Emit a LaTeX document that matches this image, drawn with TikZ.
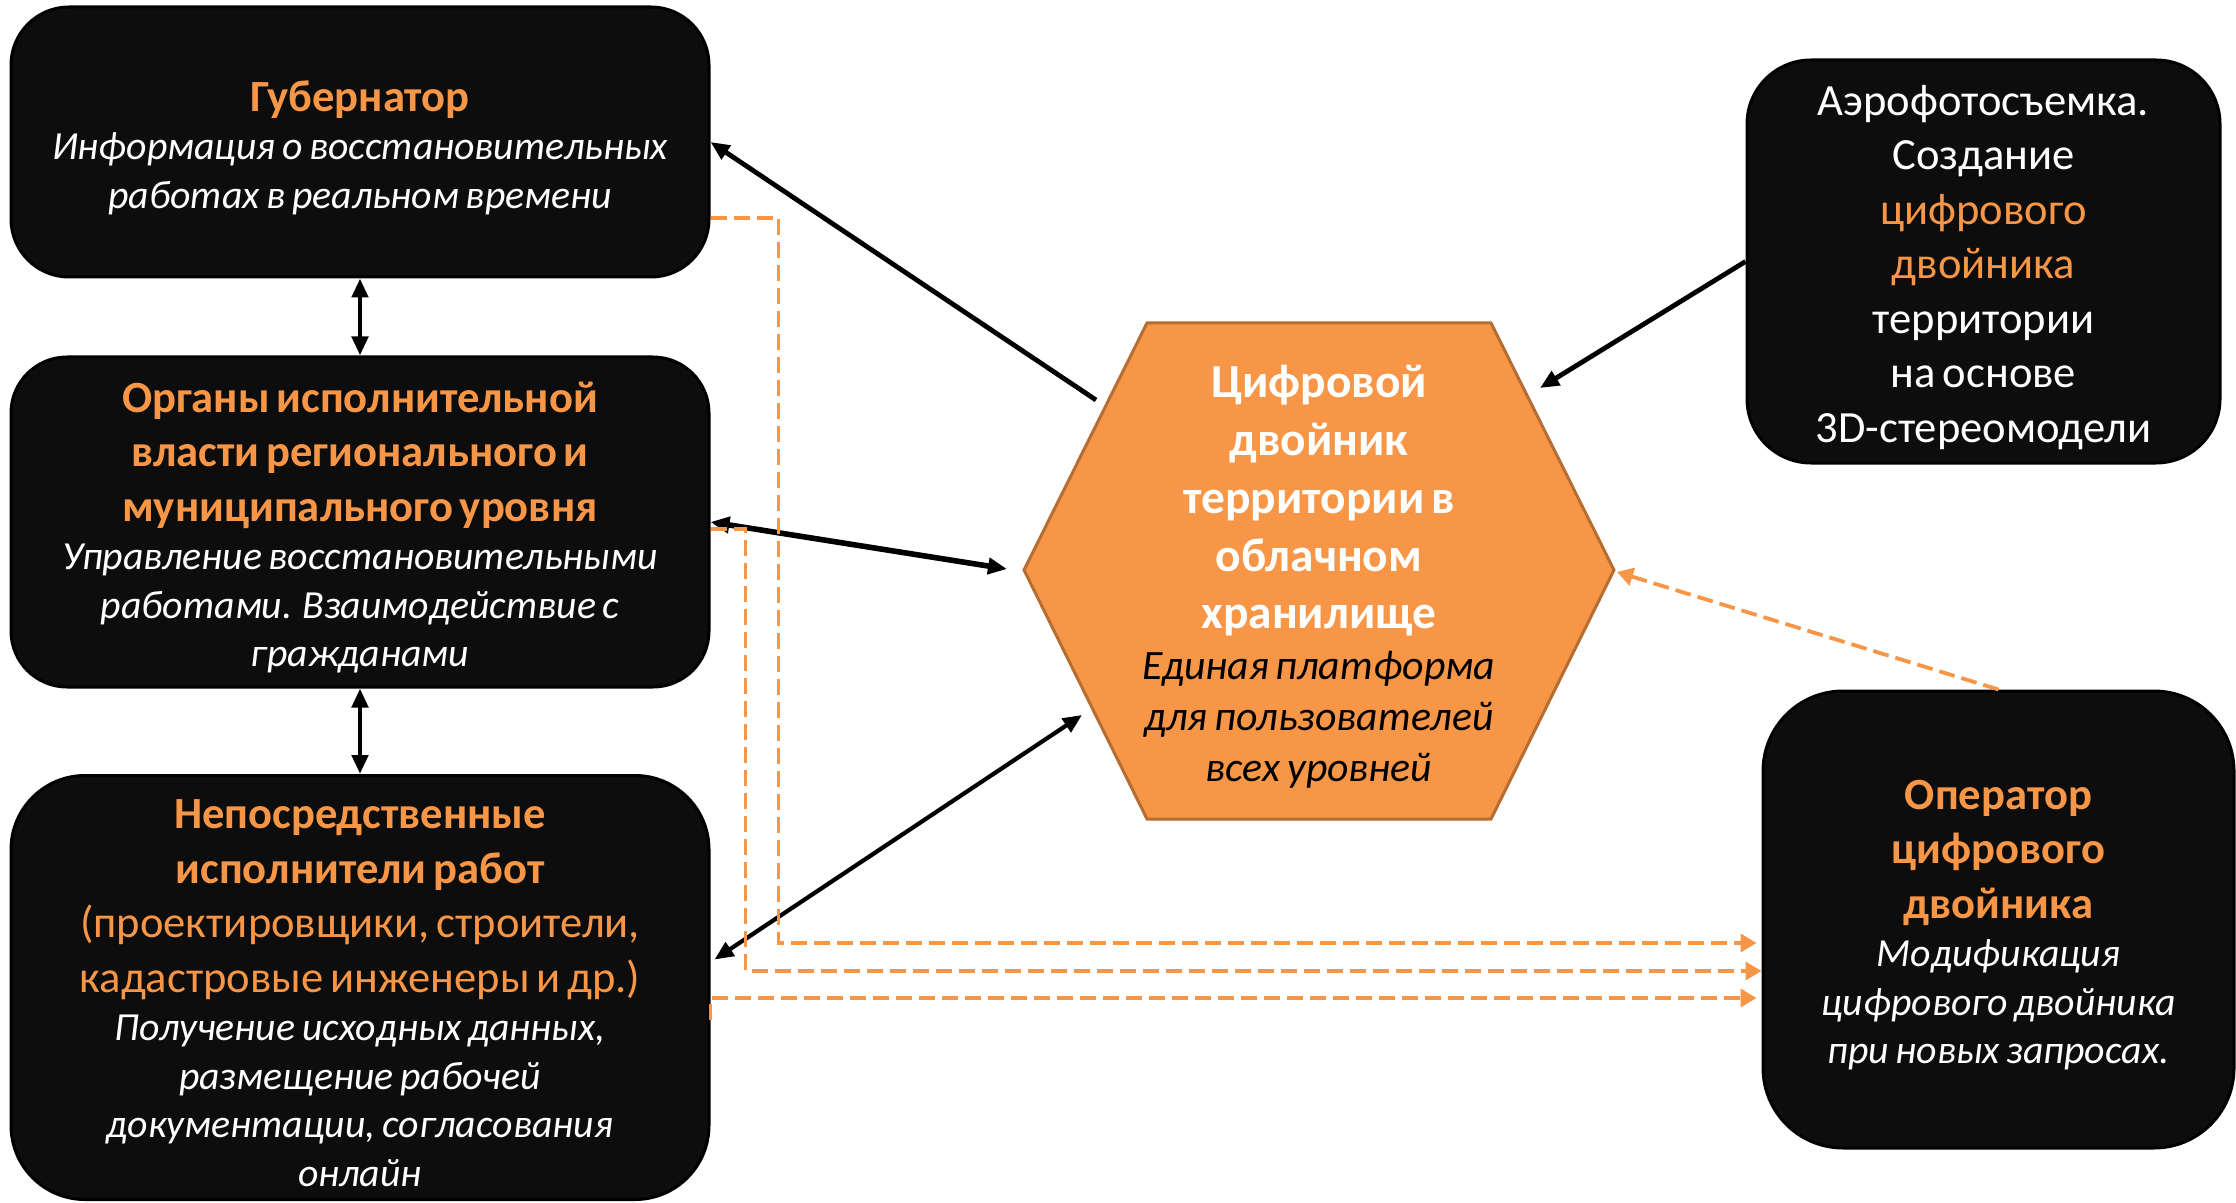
\documentclass[tikz,border=0pt]{standalone}
\usepackage{fontspec}
\setmainfont{Carlito}
\usetikzlibrary{arrows.meta,calc}
\definecolor{orng}{HTML}{F79646}
\definecolor{hexline}{HTML}{B66D31}
\definecolor{boxfill}{HTML}{0D0D0D}
\newcommand\hdf{\fontsize{22.3pt}{27.25pt}\selectfont\bfseries\color{orng}}
\newcommand\hdr{\fontsize{22.3pt}{27.25pt}\selectfont\color{orng}}
\newcommand\bdf{\fontsize{19.9pt}{24.25pt}\selectfont\itshape\color{white}}
\newcommand\hxh{\fontsize{23.7pt}{28.9pt}\selectfont\bfseries\color{white}}
\newcommand\hxb{\fontsize{20.9pt}{25.5pt}\selectfont\itshape\color{black}}
\newcommand\aef{\fontsize{22.3pt}{27.25pt}\selectfont\color{white}}
\begin{document}
\begin{tikzpicture}[x=0.5pt,y=-0.5pt,
  darkbox/.style={draw=black, line width=1.5pt, fill=boxfill, inner sep=0pt},
  txt/.style={inner sep=0pt, align=center},
  blk/.style={draw=black, line width=2.4pt, -{Triangle[length=9.5pt,width=8pt]}},
  blkd/.style={draw=black, line width=2.4pt, {Triangle[length=9.5pt,width=8pt]}-{Triangle[length=9.5pt,width=8pt]}},
  dsh/.style={draw=orng, line width=1.9pt, dash pattern=on 8pt off 3.5pt, -{Triangle[length=8pt,width=9pt]}},
]
\useasboundingbox (0,0) rectangle (2236,1203);

% hexagon
\coordinate (v1) at (1024,570);
\coordinate (v2) at (1147,323);
\coordinate (v3) at (1491,323);
\coordinate (v4) at (1614,570);
\coordinate (v5) at (1491,819);
\coordinate (v6) at (1147,819);
\draw[fill=orng, draw=hexline, line width=1.5pt] (v1) -- (v2) -- (v3) -- (v4) -- (v5) -- (v6) -- cycle;
\node[txt, text width=240pt] (hex) at (1319,577)
  {{\hxh Цифровой\\двойник\\территории в\\облачном\\хранилище\par}{\hxb Единая платформа\\для пользователей\\всех уровней\par}};

% left boxes
\node[darkbox, rounded corners=29pt, minimum width=349pt, minimum height=135pt] (gov) at (360,142) {};
\node[txt, text width=345pt] (govt) at ($(gov.center)+(0,5.7)$)
  {{\hdf Губернатор\par}{\bdf Информация о восстановительных\\работах в реальном времени\par}};
\node[darkbox, rounded corners=28pt, minimum width=349pt, minimum height=165pt] (org) at (360,522) {};
\node[txt, text width=345pt] (orgt) at ($(org.center)+(0,5.7)$)
  {{\hdf Органы исполнительной\\власти регионального и\\муниципального уровня\par}{\bdf Управление восстановительными\\работами. Взаимодействие с\\гражданами\par}};
\node[darkbox, rounded corners=37pt, minimum width=349pt, minimum height=212pt] (exe) at (360,987.5) {};
\node[txt, text width=345pt] (exet) at ($(exe.center)+(0,5.7)$)
  {{\hdf Непосредственные\\исполнители работ\par}{\hdr (проектировщики, строители,\\кадастровые инженеры и др.)\par}{\bdf Получение исходных данных,\\размещение рабочей\\документации, согласования\\онлайн\par}};

% right boxes
\node[darkbox, rounded corners=32pt, minimum width=236.5pt, minimum height=201.5pt] (aer) at (1983.5,261.5) {};
\node[txt, text width=230pt] (aert) at ($(aer.center)+(0,5.7)$)
  {{\aef Аэрофотосъемка.\\Создание\\{\color{orng}цифрового}\\{\color{orng}двойника}\\территории\\на основе\\3D-стереомодели\par}};
\node[darkbox, rounded corners=40pt, minimum width=235.5pt, minimum height=228.5pt] (opr) at (1998.5,919.5) {};
\node[txt, text width=230pt] (oprt) at ($(opr.center)+(0,5.7)$)
  {{\hdf Оператор\\цифрового\\двойника\par}{\bdf Модификация\\цифрового двойника\\при новых запросах.\par}};

% black connectors
\coordinate (h1) at (1096,400);
\coordinate (h2) at (1540,388);
\coordinate (h3) at (1007,569);
\coordinate (h4) at (1082,715);
\coordinate (e4) at ($(exe.east)+(4,-28)$);
\draw[blk] (h1) -- (gov.east);
\draw[blk] (aer.west) -- (h2);
\draw[blkd, line width=2.8pt] (org.east) -- (h3);
\draw[blkd, line width=2.1pt] (e4) -- (h4);
\draw[blkd] (gov.south) -- (org.north);
\draw[blkd] (org.south) -- (exe.north);

% orange dashed connectors
\coordinate (h5) at (1617,572);
\draw[dsh] (opr.north) -- (h5);
\coordinate (g1) at ($(gov.east)+(0,76)$);
\coordinate (oa) at ($(opr.west)+(-5,23.5)$);
\draw[dsh] (g1) -- ++(68,0) |- (oa);
\coordinate (o1) at ($(org.east)+(0,7)$);
\coordinate (ob) at ($(opr.west)+(0,51.5)$);
\draw[dsh] (o1) -- ++(35,0) |- (ob);
\coordinate (x1) at ($(exe.east)+(0,32)$);
\coordinate (oc) at ($(opr.west)+(-5,78.5)$);
\draw[dsh] (x1) |- (oc);
\end{tikzpicture}
\end{document}
